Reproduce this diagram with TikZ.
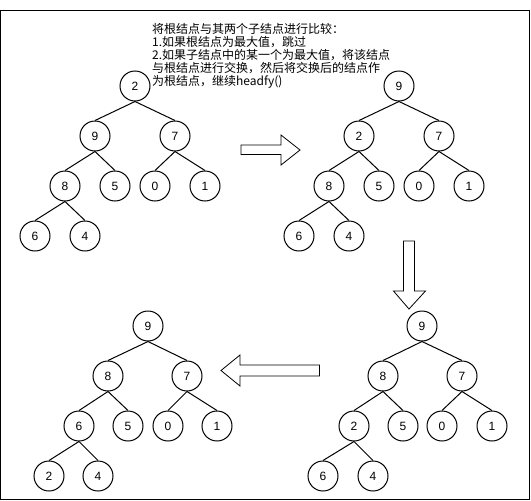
\documentclass[tikz,border=0pt]{standalone}
\usepackage{fontspec}
\setmainfont{Liberation Sans}
\newfontfamily\cjk{Noto Sans CJK SC}
\usepackage{tikz}

\tikzset{
	num/.style={circle, draw, line width=1pt, minimum size=30pt, inner sep=0pt, font=\fontsize{12}{14}\selectfont},
	link/.style={line width=1pt},
	blockarrow/.style={draw, line width=0.8pt, fill=white}
}

\begin{document}
\begin{tikzpicture}[x=1pt, y=-1pt]
	\useasboundingbox (0,0) rectangle (531,501);
	\draw [line width=1pt] (0.5,10) rectangle (529.5,499.5);
	\node [anchor=north west, align=left, inner sep=0pt, font=\cjk\fontsize{12}{13}\selectfont] (note) at (152,23.5) {将根结点与其两个子结点进行比较：\\1.如果根结点为最大值，跳过\\2.如果子结点中的某一个为最大值，将该结点\\与根结点进行交换，然后将交换后的结点作\\为根结点，继续headfy()};

	\node [num] (a1) at (135,86) {2};
	\node [num] (a2) at (95,136) {9};
	\node [num] (a3) at (175,136) {7};
	\node [num] (a4) at (65,186) {8};
	\node [num] (a5) at (115,186) {5};
	\node [num] (a6) at (155,186) {0};
	\node [num] (a7) at (205,186) {1};
	\node [num] (a8) at (35,236) {6};
	\node [num] (a9) at (85,236) {4};
	\draw [link] (a1.south) -- (a2.north) (a1.south) -- (a3.north) (a2.south) -- (a4.north) (a2.south) -- (a5.north) (a3.south) -- (a6.north) (a3.south) -- (a7.north) (a4.south) -- (a8.north) (a4.south) -- (a9.north);

	\node [num] (b1) at (399,86) {9};
	\node [num] (b2) at (359,136) {2};
	\node [num] (b3) at (439,136) {7};
	\node [num] (b4) at (329,186) {8};
	\node [num] (b5) at (379,186) {5};
	\node [num] (b6) at (419,186) {0};
	\node [num] (b7) at (469,186) {1};
	\node [num] (b8) at (299,236) {6};
	\node [num] (b9) at (349,236) {4};
	\draw [link] (b1.south) -- (b2.north) (b1.south) -- (b3.north) (b2.south) -- (b4.north) (b2.south) -- (b5.north) (b3.south) -- (b6.north) (b3.south) -- (b7.north) (b4.south) -- (b8.north) (b4.south) -- (b9.north);

	\node [num] (c1) at (422,326) {9};
	\node [num] (c2) at (383,376) {8};
	\node [num] (c3) at (462,376) {7};
	\node [num] (c4) at (354,426) {2};
	\node [num] (c5) at (403,426) {5};
	\node [num] (c6) at (442,426) {0};
	\node [num] (c7) at (492,426) {1};
	\node [num] (c8) at (323,476) {6};
	\node [num] (c9) at (373,476) {4};
	\draw [link] (c1.south) -- (c2.north) (c1.south) -- (c3.north) (c2.south) -- (c4.north) (c2.south) -- (c5.north) (c3.south) -- (c6.north) (c3.south) -- (c7.north) (c4.south) -- (c8.north) (c4.south) -- (c9.north);

	\node [num] (d1) at (148,326) {9};
	\node [num] (d2) at (108,376) {8};
	\node [num] (d3) at (187,376) {7};
	\node [num] (d4) at (79,426) {6};
	\node [num] (d5) at (128,426) {5};
	\node [num] (d6) at (168,426) {0};
	\node [num] (d7) at (217,426) {1};
	\node [num] (d8) at (49,476) {2};
	\node [num] (d9) at (98,476) {4};
	\draw [link] (d1.south) -- (d2.north) (d1.south) -- (d3.north) (d2.south) -- (d4.north) (d2.south) -- (d5.north) (d3.south) -- (d6.north) (d3.south) -- (d7.north) (d4.south) -- (d8.north) (d4.south) -- (d9.north);

	\draw [blockarrow] (241,145) -- (281,145) -- (281,135) -- (300,150) -- (281,165) -- (281,154.5) -- (241,154.5) -- cycle;
	\draw [blockarrow] (403.5,241) -- (414.5,241) -- (414.5,291) -- (425.5,291) -- (409,309) -- (393.5,291) -- (403.5,291) -- cycle;
	\draw [blockarrow] (319.5,365) -- (240,365) -- (240,355) -- (221,370.5) -- (240,386) -- (240,376) -- (319.5,376) -- cycle;
\end{tikzpicture}
\end{document}
